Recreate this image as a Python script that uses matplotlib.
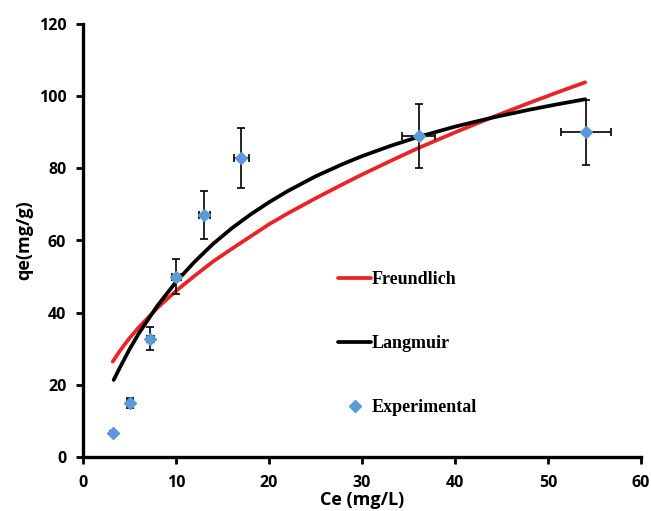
import matplotlib
matplotlib.use("Agg")
import matplotlib.pyplot as plt

# Experimental data
ce_exp = [3.25, 5.05, 7.25, 10.05, 13.05, 17.0, 36.1, 54.1]
qe_exp = [6.6, 14.9, 32.8, 50.0, 67.0, 83.0, 89.1, 90.0]
qe_err = [0.65, 1.5, 3.3, 4.9, 6.7, 8.3, 8.9, 9.0]
ce_err = [0.16, 0.3, 0.4, 0.5, 0.6, 0.8, 1.8, 2.7]

# Freundlich model curve
ce_f = [3.2, 4, 5, 6, 8, 10, 12, 14, 16, 18, 20, 22, 25, 28, 30, 33, 36, 40, 44, 48, 51, 54]
qe_f = [26.4, 29.5, 32.9, 35.9, 41.3, 46.0, 50.2, 54.2, 57.7, 61.1, 64.5, 67.5, 71.7, 75.7,
        78.3, 82.0, 85.6, 90.0, 94.2, 98.2, 101.1, 103.9]

# Langmuir model curve
ce_l = [3.3, 4, 5, 6, 8, 10, 12, 14, 16, 18, 20, 22, 25, 28, 30, 33, 36, 40, 44, 48, 51, 54]
qe_l = [21.3, 24.9, 29.8, 34.2, 41.9, 48.5, 54.1, 59.1, 63.4, 67.2, 70.6, 73.7, 77.8, 81.3,
        83.4, 86.2, 88.7, 91.6, 94.1, 96.3, 97.8, 99.2]

x_ticks = [0, 10, 20, 30, 40, 50, 60]
y_ticks = [0, 20, 40, 60, 80, 100, 120]

fig = plt.figure(figsize=(6.51, 5.11), dpi=100)
ax = fig.add_axes([83/651, 1 - 456.7/511, (641-83)/651, (456.7-24.3)/511])

ax.plot(ce_f, qe_f, color="#EC2227", lw=2.7, label="Freundlich", solid_capstyle="round", zorder=3)
ax.plot(ce_l, qe_l, color="black", lw=2.7, label="Langmuir", solid_capstyle="round", zorder=3)
ax.errorbar(ce_exp, qe_exp, yerr=qe_err, xerr=ce_err, fmt="none", ecolor="black",
            elinewidth=1.2, capsize=3, capthick=1.2, zorder=4)
ax.plot(ce_exp, qe_exp, linestyle="none", marker="D", color="#5B9BD5", markersize=6.5,
        label="Experimental", zorder=5)

ax.set_xlim(0, 60)
ax.set_ylim(0, 120)
ax.set_xticks(x_ticks)
ax.set_yticks(y_ticks)

for s in ["top", "right"]:
    ax.spines[s].set_visible(False)
for s in ["left", "bottom"]:
    ax.spines[s].set_linewidth(2.4)
ax.tick_params(direction="out", length=5, width=2)
ax.tick_params(axis="x", pad=8)
ax.tick_params(axis="y", pad=7)
for lab in ax.get_xticklabels() + ax.get_yticklabels():
    lab.set_fontfamily("Open Sans")
    lab.set_fontweight("bold")
    lab.set_fontsize(11.5)

ax.set_xlabel("Ce (mg/L)", fontfamily="Open Sans", fontweight="bold", fontsize=13, labelpad=0.5)
ax.set_ylabel("qe(mg/g)", fontfamily="Open Sans", fontweight="bold", fontsize=13, labelpad=4)

leg = ax.legend(loc="upper left", bbox_to_anchor=(0.4405, 0.450), frameon=False,
                prop=dict(family="Liberation Serif", weight="bold", size=13),
                handlelength=1.85, handletextpad=0.05, labelspacing=2.6, borderpad=0)

fig.savefig("out.png", dpi=100)
